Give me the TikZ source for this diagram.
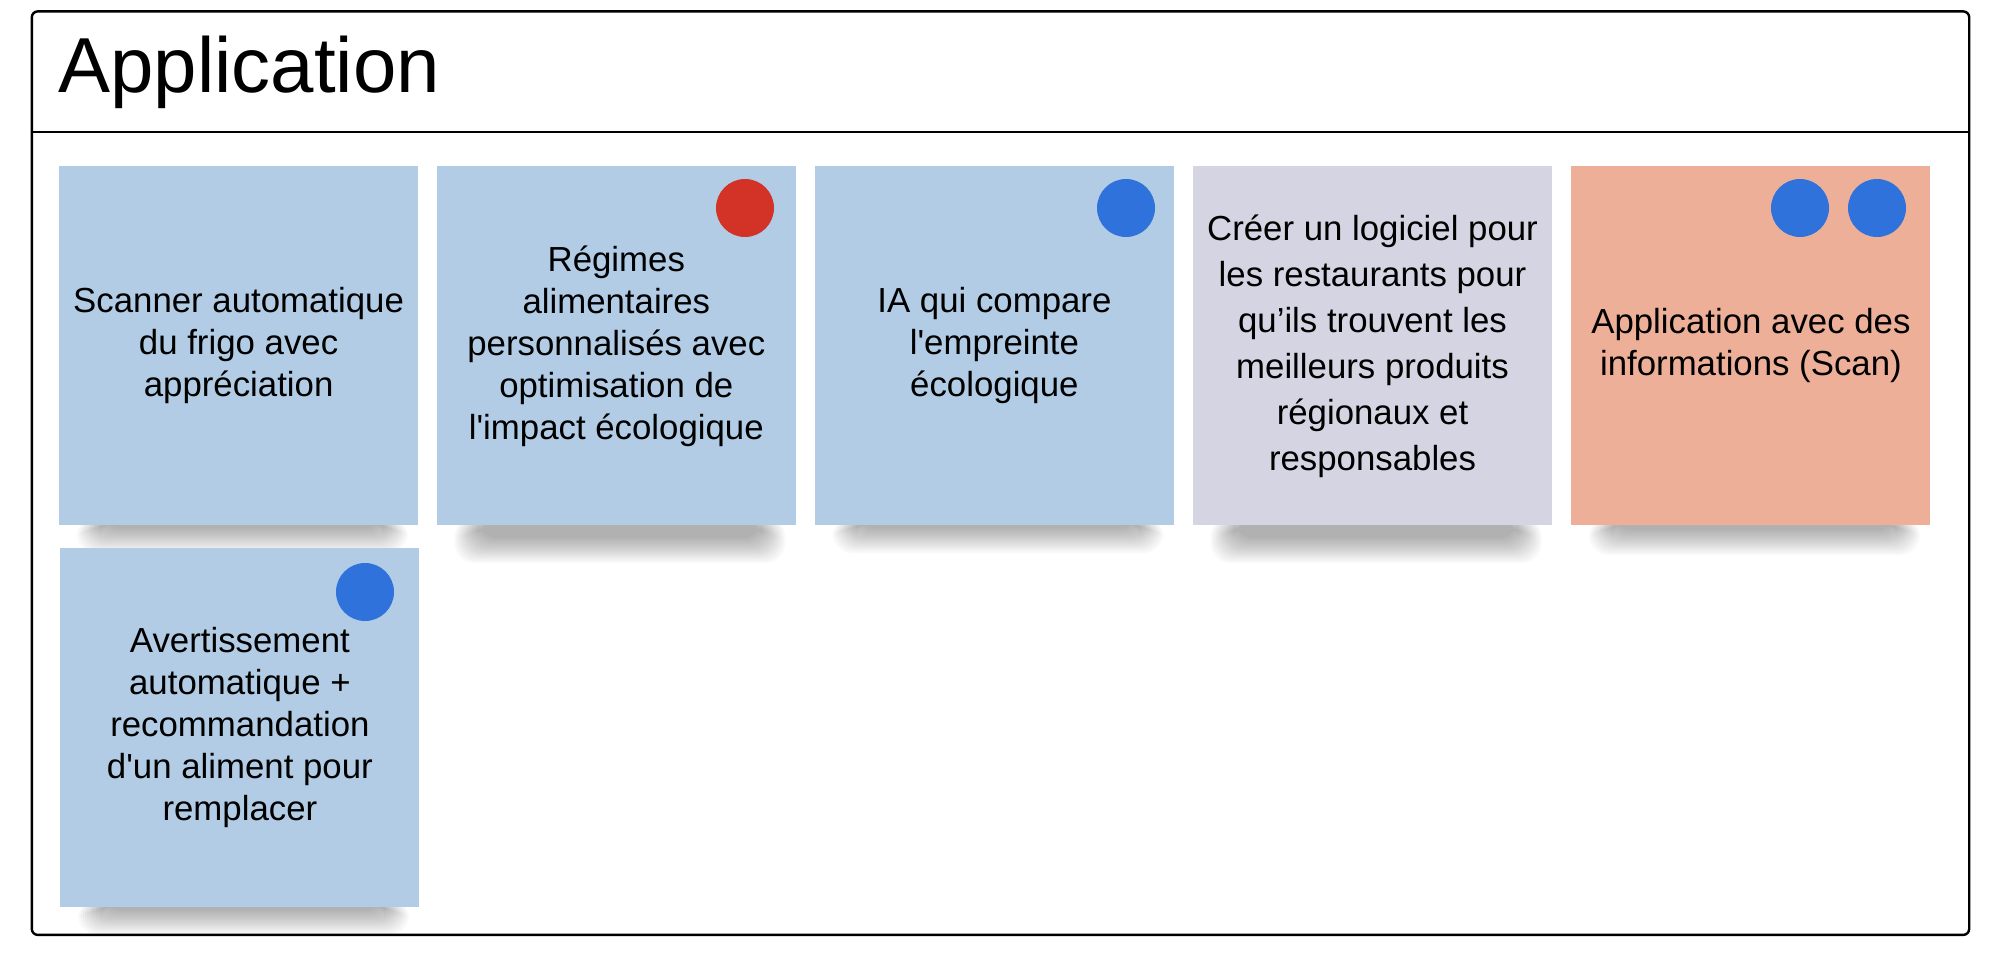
\documentclass[tikz,border=0pt]{standalone}
\usepackage{fontspec}
\setmainfont{Liberation Sans}
\definecolor{cardblue}{HTML}{B1CCE4}
\definecolor{cardlav}{HTML}{D5D4E2}
\definecolor{cardsalmon}{HTML}{EDAF98}
\definecolor{dotred}{HTML}{D33327}
\definecolor{dotblue}{HTML}{2F72DC}
\tikzset{
  card/.style={anchor=north west, minimum width=179.5pt, minimum height=179.5pt,
    inner sep=0pt, align=center, font=\fontsize{17.4}{21}\selectfont},
  vote/.style={circle, minimum size=29pt, inner sep=0pt},
  frameline/.style={draw=black, line width=1.2pt},
}
% #1 left, #2 card bottom, #3 depth of shadow
\newcommand{\cardshadow}[3]{%
  \foreach \i in {0,...,13}{%
    \fill[black, opacity=0.022, rounded corners=10pt]
      ({#1+18+1.8*\i},{#2-8+0.3*\i}) rectangle ({#1+359-10-1.8*\i},{#2+#3-1.9*\i});
  }%
}
\begin{document}
\begin{tikzpicture}[x=0.5pt, y=-0.5pt]
\useasboundingbox (0,0) rectangle (2000,967);
\fill[white] (0,0) rectangle (2000,967);
% frame
\node[frameline, rounded corners=3pt, anchor=north west, minimum width=968.7pt,
  minimum height=461.75pt, inner sep=0pt] (frame) at (30.6,10.2) {};
\coordinate (hl) at (0,132);
\draw[frameline] (frame.west |- hl) -- (frame.east |- hl);
\node[anchor=base west, inner sep=0pt, font=\fontsize{39}{45}\selectfont] (title) at (58,93) {Application};
% shadows
\cardshadow{58.7}{525}{28}
\cardshadow{436.4}{525}{38}
\cardshadow{814.5}{525}{28}
\cardshadow{1192.6}{525}{38}
\cardshadow{1571}{525}{30}
\cardshadow{60}{907}{28}
% cards
\node[card, fill=cardblue] (c1) at (58.7,166) {Scanner automatique\\du frigo avec\\appréciation};
\node[card, fill=cardblue] (c2) at (436.4,166) {Régimes\\alimentaires\\personnalisés avec\\optimisation de\\l\textquotesingle impact écologique};
\node[card, fill=cardblue] (c3) at (814.5,166) {IA qui compare\\l\textquotesingle empreinte\\écologique};
\node[card, fill=cardlav, font=\fontsize{17.4}{23}\selectfont] (c4) at (1192.6,166) {Créer un logiciel pour\\les restaurants pour\\qu’ils trouvent les\\meilleurs produits\\régionaux et\\responsables};
\node[card, fill=cardsalmon] (c5) at (1571,166) {Application avec des\\informations (Scan)};
\node[card, fill=cardblue] (c6) at (60,548) {Avertissement\\automatique +\\recommandation\\d\textquotesingle un aliment pour\\remplacer};
% votes
\node[vote, fill=dotred] (d2) at (745,208) {};
\node[vote, fill=dotblue] (d3) at (1126,208) {};
\node[vote, fill=dotblue] (d5a) at (1800,208) {};
\node[vote, fill=dotblue] (d5b) at (1877,208) {};
\node[vote, fill=dotblue] (d6) at (365,592) {};
\end{tikzpicture}
\end{document}
